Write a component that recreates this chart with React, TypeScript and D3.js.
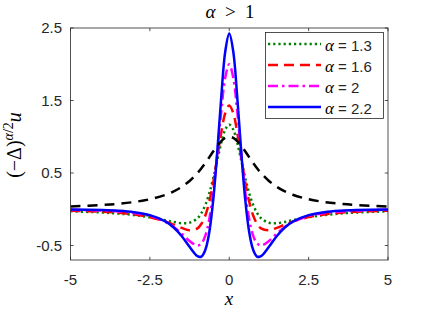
import React, { useRef, useEffect } from 'react';
import * as d3 from 'd3';

const xs = [-5, -4, -3.5, -3, -2.5, -2, -1.75, -1.5, -1.25, -1, -0.875, -0.75, -0.625, -0.5, -0.375, -0.25, -0.125, 0,
  0.125, 0.25, 0.375, 0.5, 0.625, 0.75, 0.875, 1, 1.25, 1.5, 1.75, 2, 2.5, 3, 3.5, 4, 5];

const base = [0.038, 0.059, 0.075, 0.1, 0.138, 0.2, 0.246, 0.308, 0.39, 0.5, 0.566, 0.64, 0.719, 0.8, 0.877, 0.941, 0.985, 1,
  0.985, 0.941, 0.877, 0.8, 0.719, 0.64, 0.566, 0.5, 0.39, 0.308, 0.246, 0.2, 0.138, 0.1, 0.075, 0.059, 0.038];

const a13 = [-0.028, -0.045, -0.059, -0.08, -0.11, -0.152, -0.175, -0.192, -0.186, -0.123, -0.05, 0.063, 0.225, 0.437, 0.68, 0.92, 1.1, 1.167,
  1.1, 0.92, 0.68, 0.437, 0.225, 0.063, -0.05, -0.123, -0.186, -0.192, -0.175, -0.152, -0.11, -0.08, -0.059, -0.045, -0.028];

const a16 = [-0.019, -0.034, -0.048, -0.071, -0.109, -0.17, -0.212, -0.257, -0.29, -0.263, -0.2, -0.082, 0.11, 0.383, 0.716, 1.062, 1.328, 1.43,
  1.328, 1.062, 0.716, 0.383, 0.11, -0.082, -0.2, -0.263, -0.29, -0.257, -0.212, -0.17, -0.109, -0.071, -0.048, -0.034, -0.019];

const a20 = [-0.008, -0.019, -0.031, -0.052, -0.093, -0.176, -0.244, -0.335, -0.438, -0.5, -0.471, -0.36, -0.128, 0.256, 0.779, 1.355, 1.82, 2,
  1.82, 1.355, 0.779, 0.256, -0.128, -0.36, -0.471, -0.5, -0.438, -0.335, -0.244, -0.176, -0.093, -0.052, -0.031, -0.019, -0.008];

const a22 = [-0.004, -0.012, -0.021, -0.04, -0.081, -0.17, -0.251, -0.368, -0.518, -0.647, -0.652, -0.556, -0.307, 0.148, 0.808, 1.558, 2.18, 2.424,
  2.18, 1.558, 0.808, 0.148, -0.307, -0.556, -0.652, -0.647, -0.518, -0.368, -0.251, -0.17, -0.081, -0.04, -0.021, -0.012, -0.004];

const xTicks = [-5, -2.5, 0, 2.5, 5];
const yTicks = [-0.5, 0.5, 1.5, 2.5];
const legendLabels = ['1.3', '1.6', '2', '2.2'];

const series = [
  { vals: a13, color: '#008000', dash: '2.2,3' },
  { vals: a16, color: '#ff0000', dash: '10,6' },
  { vals: a20, color: '#ff00ff', dash: '10,4,2.5,4' },
  { vals: a22, color: '#0000ff', dash: null },
];

const App = () => {
  const svgRef = useRef(null);

  useEffect(() => {
    const svg = d3.select(svgRef.current);
    svg.selectAll('*').remove();

    const left = 70.5, right = 388, top = 28, bottom = 260;
    const ink = '#262626';
    const sans = '"Liberation Sans", Arial, sans-serif';
    const serif = '"Liberation Serif", "DejaVu Serif", serif';

    const x = d3.scaleLinear().domain([-5, 5]).range([left, right]);
    const y = d3.scaleLinear().domain([-0.7, 2.5]).range([bottom, top]);

    svg.append('rect').attr('width', 428).attr('height', 314).attr('fill', '#fff');

    svg.append('defs').append('clipPath').attr('id', 'plotclip')
      .append('rect').attr('x', left).attr('y', top).attr('width', right - left).attr('height', bottom - top);

    const line = (vals) => d3.line()
      .x((d, i) => x(xs[i]))
      .y(d => y(d))
      .curve(d3.curveCatmullRom.alpha(0.5))(vals);

    const plot = svg.append('g').attr('clip-path', 'url(#plotclip)');

    series.forEach(s => {
      plot.append('path')
        .attr('d', line(s.vals))
        .attr('fill', 'none')
        .attr('stroke', s.color)
        .attr('stroke-width', 2.5)
        .attr('stroke-dasharray', s.dash);
    });

    plot.append('path')
      .attr('d', line(base))
      .attr('fill', 'none')
      .attr('stroke', '#000')
      .attr('stroke-width', 2.5)
      .attr('stroke-dasharray', '10,7');

    // box and ticks
    svg.append('rect')
      .attr('x', left).attr('y', top)
      .attr('width', right - left).attr('height', bottom - top)
      .attr('fill', 'none').attr('stroke', ink).attr('stroke-width', 0.8);

    xTicks.forEach(t => {
      svg.append('line').attr('x1', x(t)).attr('x2', x(t)).attr('y1', bottom).attr('y2', bottom - 3.2)
        .attr('stroke', ink).attr('stroke-width', 0.8);
      svg.append('line').attr('x1', x(t)).attr('x2', x(t)).attr('y1', top).attr('y2', top + 3.2)
        .attr('stroke', ink).attr('stroke-width', 0.8);
      svg.append('text').attr('x', x(t)).attr('y', 285)
        .attr('text-anchor', 'middle').attr('fill', ink)
        .style('font-family', sans).style('font-size', '15px')
        .text(String(t));
    });

    yTicks.forEach(t => {
      svg.append('line').attr('x1', left).attr('x2', left + 3.2).attr('y1', y(t)).attr('y2', y(t))
        .attr('stroke', ink).attr('stroke-width', 0.8);
      svg.append('line').attr('x1', right).attr('x2', right - 3.2).attr('y1', y(t)).attr('y2', y(t))
        .attr('stroke', ink).attr('stroke-width', 0.8);
      svg.append('text').attr('x', 62).attr('y', y(t) + 5)
        .attr('text-anchor', 'end').attr('fill', ink)
        .style('font-family', sans).style('font-size', '15px')
        .text(String(t));
    });

    // title
    const title = svg.append('text').attr('x', 230).attr('y', 18)
      .attr('text-anchor', 'middle').attr('fill', '#000')
      .style('font-family', serif).style('font-size', '19px');
    title.append('tspan').style('font-style', 'italic').text('α');
    title.append('tspan').text('\u2002>\u20021');

    // x label
    svg.append('text').attr('x', 229).attr('y', 305)
      .attr('text-anchor', 'middle').attr('fill', '#000')
      .style('font-family', serif).style('font-size', '19px').style('font-style', 'italic')
      .text('x');

    // y label
    const yl = svg.append('text')
      .attr('transform', 'translate(21,145) rotate(-90)')
      .attr('text-anchor', 'middle').attr('fill', '#000')
      .style('font-family', serif).style('font-size', '20px');
    yl.append('tspan').text('(−Δ)');
    yl.append('tspan').attr('dy', -8).style('font-size', '14px').style('font-style', 'italic').text('α');
    yl.append('tspan').style('font-size', '14px').text('/2');
    yl.append('tspan').attr('dy', 8).style('font-style', 'italic').text('u');

    // legend
    const lg = svg.append('g');
    lg.append('rect').attr('x', 265.5).attr('y', 32.5).attr('width', 118).attr('height', 86)
      .attr('fill', '#fff').attr('stroke', ink).attr('stroke-width', 0.8);
    series.forEach((s, i) => {
      const ly = 44 + i * 21;
      lg.append('line').attr('x1', 268).attr('x2', 321).attr('y1', ly).attr('y2', ly)
        .attr('stroke', s.color).attr('stroke-width', 2.5).attr('stroke-dasharray', s.dash);
      const t = lg.append('text').attr('x', 325).attr('y', ly + 7).attr('fill', '#000')
        .style('font-size', '15px');
      t.append('tspan').style('font-family', serif).style('font-style', 'italic').style('font-size', '17px').text('α');
      t.append('tspan').style('font-family', sans).attr('fill', ink).text(' = ' + legendLabels[i]);
    });
  }, []);

  return (
    <svg ref={svgRef} width={428} height={314} style={{ position: 'absolute', left: 0, top: 0 }}></svg>
  );
};

export default App;
